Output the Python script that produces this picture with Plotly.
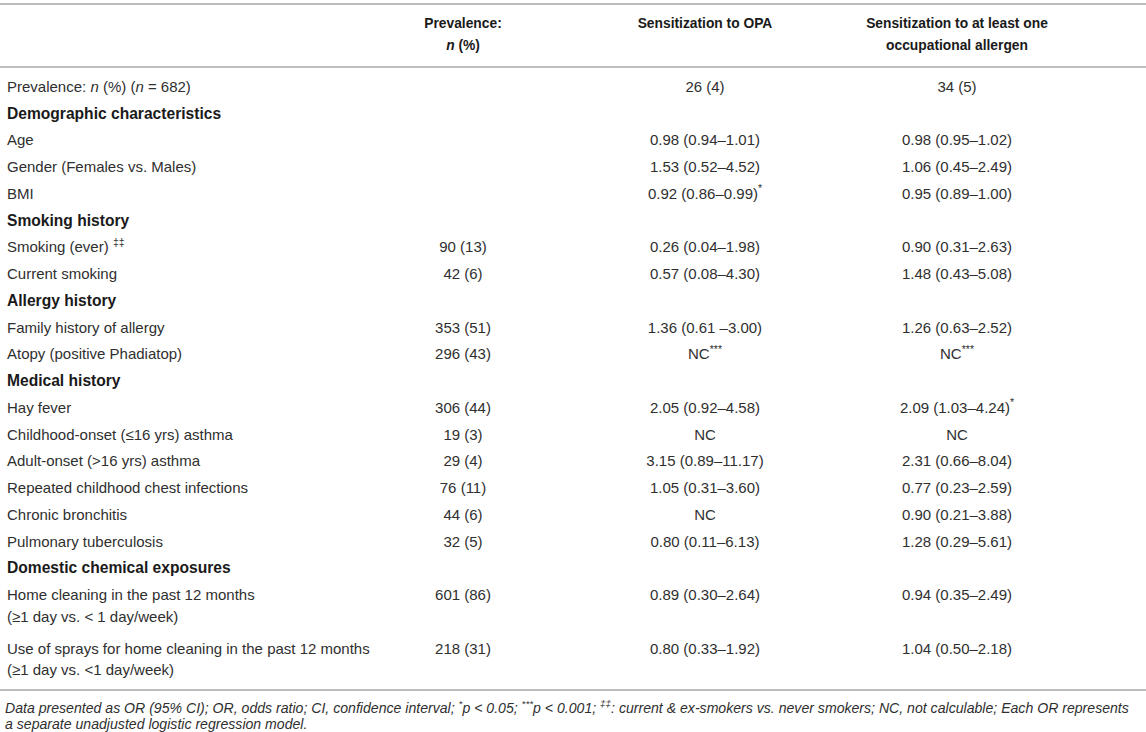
"""Table: prevalence and odds ratios for OPA / occupational allergen sensitization."""
import plotly.graph_objects as go

# ---- data ----
headers = ["", "Prevalence:\n<i>n</i> (%)", "Sensitization to OPA",
           "Sensitization to at least one\noccupational allergen"]

labels = [
    "Prevalence: <i>n</i> (%) (<i>n</i> = 682)",
    "Demographic characteristics",
    "Age",
    "Gender (Females vs. Males)",
    "BMI",
    "Smoking history",
    "Smoking (ever) <sup>‡‡</sup>",
    "Current smoking",
    "Allergy history",
    "Family history of allergy",
    "Atopy (positive Phadiatop)",
    "Medical history",
    "Hay fever",
    "Childhood-onset (≤16 yrs) asthma",
    "Adult-onset (&gt;16 yrs) asthma",
    "Repeated childhood chest infections",
    "Chronic bronchitis",
    "Pulmonary tuberculosis",
    "Domestic chemical exposures",
    "Home cleaning in the past 12 months\n(≥1 day vs. &lt; 1 day/week)",
    "Use of sprays for home cleaning in the past 12 months\n(≥1 day vs. &lt;1 day/week)",
]
is_section = [False, True, False, False, False, True, False, False, True, False, False,
              True, False, False, False, False, False, False, True, False, False]

prevalence = ["", "", "", "", "", "", "90 (13)", "42 (6)", "", "353 (51)", "296 (43)",
              "", "306 (44)", "19 (3)", "29 (4)", "76 (11)", "44 (6)", "32 (5)", "",
              "601 (86)", "218 (31)"]

or_opa = ["26 (4)", "", "0.98 (0.94–1.01)", "1.53 (0.52–4.52)", "0.92 (0.86–0.99)<sup>*</sup>",
          "", "0.26 (0.04–1.98)", "0.57 (0.08–4.30)", "", "1.36 (0.61 –3.00)", "NC<sup>***</sup>",
          "", "2.05 (0.92–4.58)", "NC", "3.15 (0.89–11.17)", "1.05 (0.31–3.60)", "NC",
          "0.80 (0.11–6.13)", "", "0.89 (0.30–2.64)", "0.80 (0.33–1.92)"]

or_any = ["34 (5)", "", "0.98 (0.95–1.02)", "1.06 (0.45–2.49)", "0.95 (0.89–1.00)",
          "", "0.90 (0.31–2.63)", "1.48 (0.43–5.08)", "", "1.26 (0.63–2.52)", "NC<sup>***</sup>",
          "", "2.09 (1.03–4.24)<sup>*</sup>", "NC", "2.31 (0.66–8.04)", "0.77 (0.23–2.59)",
          "0.90 (0.21–3.88)", "1.28 (0.29–5.61)", "", "0.94 (0.35–2.49)", "1.04 (0.50–2.18)"]

footnote = ("<i>Data presented as OR (95% CI); OR, odds ratio; CI, confidence interval; "
            "<sup>*</sup>p &lt; 0.05; <sup>***</sup>p &lt; 0.001; <sup>‡‡</sup>: current &amp; "
            "ex-smokers vs. never smokers; NC, not calculable; Each OR represents</i>\n"
            "<i>a separate unadjusted logistic regression model.</i>")

# ---- layout (pixels, y grows downward) ----
W, H = 1146, 732
COL_X = [7, 463, 705, 957]          # left edge of col 0, centres of the others
ROW_Y0, PITCH, LINE = 88, 26.75, 21.5
HEAD_Y = 25
FONT = "Liberation Sans, Arial, Helvetica, sans-serif"
TXT = "#2f2f2f"
RULE = "#bdbdbd"
FS = 15

# row positions: a two-line label takes two pitches
row_y, k = [], 0
for lab in labels:
    row_y.append(ROW_Y0 + PITCH * k)
    k += lab.count("\n") + 1


def split_lines(texts, ys, x, line=LINE):
    """one text element per visual line; empty cells are dropped"""
    xs_o, ys_o, ts_o = [], [], []
    for t, y in zip(texts, ys):
        if not t:
            continue
        for n, part in enumerate(t.split("\n")):
            xs_o.append(x); ys_o.append(y + n * line); ts_o.append(part)
    return xs_o, ys_o, ts_o


def text_trace(x, y, t, pos, size, color=TXT):
    return go.Scatter(x=x, y=y, mode="text", text=t, textposition=pos,
                      textfont=dict(family=FONT, size=size, color=color),
                      hoverinfo="skip", showlegend=False)


fig = go.Figure()

# header
for c, h in enumerate(headers[1:], start=1):
    x, y, t = split_lines([h], [HEAD_Y], COL_X[c])
    fig.add_trace(text_trace(x, y, ["<b>%s</b>" % s for s in t], "middle center", 13.8, "#1a1a1a"))

# first column: items regular, section headings bold and a touch larger
for sec, size in [(False, FS), (True, 15.6)]:
    texts = [lab if s == sec else "" for lab, s in zip(labels, is_section)]
    x, y, t = split_lines(texts, row_y, COL_X[0])
    if sec:
        t = ["<b>%s</b>" % s for s in t]
    fig.add_trace(text_trace(x, y, t, "middle right", size, "#1a1a1a" if sec else TXT))

# value columns
for c, col in enumerate([prevalence, or_opa, or_any], start=1):
    x, y, t = split_lines(col, row_y, COL_X[c])
    fig.add_trace(text_trace(x, y, t, "middle center", FS))

# footnote
x, y, t = split_lines([footnote], [709], COL_X[0] - 2, line=16)
fig.add_trace(text_trace(x, y, t, "middle right", 14.1))

# rules
for yy in [4, 67, 690]:
    fig.add_shape(type="line", xref="x", yref="y", x0=0, x1=W, y0=yy, y1=yy,
                  line=dict(color=RULE, width=2))

fig.update_layout(
    width=W, height=H, margin=dict(l=0, r=0, t=0, b=0),
    paper_bgcolor="white", plot_bgcolor="white",
    xaxis=dict(range=[0, W], visible=False, fixedrange=True),
    yaxis=dict(range=[H, 0], visible=False, fixedrange=True),
)
# the page's default 8px body margin would push the table off its top-left corner
fig.write_html("out.html", config={"displayModeBar": False},
               post_script="document.body.style.margin='0';document.body.style.overflow='hidden';")
